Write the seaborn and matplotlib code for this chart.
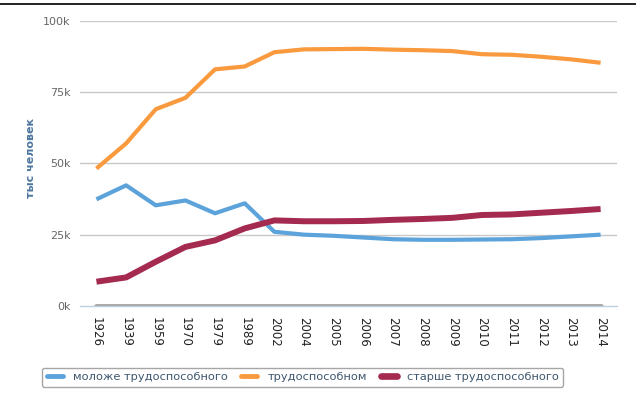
import numpy as np
import pandas as pd
import matplotlib
matplotlib.use('Agg')
import matplotlib.pyplot as plt
import seaborn as sns
from matplotlib.lines import Line2D

# years (categories) and values in thousands of people
years = ['1926', '1939', '1959', '1970', '1979', '1989', '2002', '2004', '2005',
         '2006', '2007', '2008', '2009', '2010', '2011', '2012', '2013', '2014']
young = [37.4, 42.3, 35.3, 37.0, 32.5, 36.0, 26.0, 25.0, 24.6,
         24.0, 23.4, 23.2, 23.2, 23.3, 23.4, 23.8, 24.4, 25.0]
working = [48.2, 57.0, 69.0, 73.0, 83.0, 84.0, 89.0, 90.0, 90.1,
           90.2, 89.9, 89.7, 89.4, 88.3, 88.1, 87.4, 86.5, 85.3]
old = [8.5, 10.0, 15.5, 20.7, 23.0, 27.2, 30.0, 29.7, 29.7,
       29.8, 30.2, 30.5, 30.9, 31.9, 32.1, 32.7, 33.3, 34.0]
baseline = [0.0] * len(years)

names = ['моложе трудоспособного', 'трудоспособном', 'старше трудоспособного']
colors = ['#5ba3da', '#f99a3f', '#a52a50']
widths = [3.0, 3.0, 4.3]

df = pd.DataFrame({'idx': np.arange(len(years)),
                   names[0]: np.array(young) * 1000,
                   names[1]: np.array(working) * 1000,
                   names[2]: np.array(old) * 1000,
                   'base': np.array(baseline) * 1000})

sns.set_style('white')
plt.rcParams['font.family'] = ['DejaVu Sans']

fig = plt.figure(figsize=(6.36, 4.09), dpi=100)
ax = fig.add_axes([0.126, 0.252, 0.844, 0.697])

# gridlines
for v in [25000, 50000, 75000, 100000]:
    ax.axhline(v, color='#c8c8c8', linewidth=1.0, zorder=0)

# grey zero series
sns.lineplot(data=df, x='idx', y='base', ax=ax, color='#a0a0a0', linewidth=3.4,
             zorder=2, legend=False)

for name, c, w in zip(names, colors, widths):
    sns.lineplot(data=df, x='idx', y=name, ax=ax, color=c, linewidth=w,
                 solid_capstyle='butt', solid_joinstyle='round', zorder=3,
                 legend=False)

ax.set_xlim(-0.55, len(years) - 0.45)
ax.set_ylim(0, 100000)
ax.set_yticks([0, 25000, 50000, 75000, 100000])
ax.set_yticklabels(['0k', '25k', '50k', '75k', '100k'], color='#666666', fontsize=8)
ax.set_xticks(np.arange(len(years)))
ax.set_xticklabels(years, rotation=-90, fontsize=8.5, color='#222222')
ax.tick_params(axis='x', length=0, pad=8)
ax.tick_params(axis='y', length=0, pad=7)

# category boundary ticks
ax.set_xticks(np.arange(len(years) + 1) - 0.5, minor=True)
ax.tick_params(axis='x', which='minor', length=5, color='#c0d0e0', width=1)

for s in ['top', 'right', 'left']:
    ax.spines[s].set_visible(False)
ax.spines['bottom'].set_color('#c0d0e0')
ax.spines['bottom'].set_linewidth(1)

ax.set_xlabel('')
ax.set_ylabel('тыс человек', color='#4d759e', fontsize=8, fontweight='bold')
ax.yaxis.set_label_coords(-0.082, 0.52)

handles = [Line2D([0], [0], color=c, linewidth=w + 0.5) for c, w in zip(colors, widths)]
leg = fig.legend(handles, names, loc='center', bbox_to_anchor=(0.476, 0.078), ncol=3,
                 frameon=True, fancybox=True, fontsize=8.2, handlelength=1.4,
                 columnspacing=1.2, handletextpad=0.9, borderpad=0.4)
leg.get_frame().set_edgecolor('#909090')
leg.get_frame().set_linewidth(1)
for t in leg.get_texts():
    t.set_color('#3e576f')

fig.add_artist(Line2D([0, 1], [0.989, 0.989], color='#111111', linewidth=1.3,
                      transform=fig.transFigure))

fig.savefig('out.png', dpi=100)
